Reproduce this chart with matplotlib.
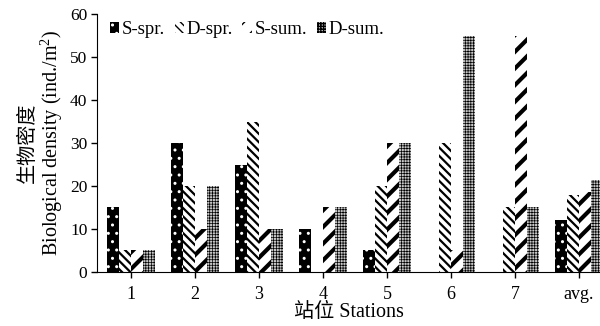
import numpy as np
import matplotlib
matplotlib.use("Agg")
import matplotlib.pyplot as plt
from matplotlib.patches import Patch

plt.rcParams['font.family'] = ['Liberation Serif', 'Noto Sans CJK SC']
plt.rcParams['mathtext.fontset'] = 'custom'
plt.rcParams['mathtext.rm'] = 'Liberation Serif'

# datos
stations = ['1', '2', '3', '4', '5', '6', '7', 'avg.']
s_spr = [15, 30, 25, 10, 5, 0, 0, 12.1]
d_spr = [5, 20, 35, 0, 20, 30, 15, 17.9]
s_sum = [5, 10, 10, 15, 30, 5, 55, 18.6]
d_sum = [5, 20, 10, 15, 30, 55, 15, 21.4]
labels = ['S-spr.', 'D-spr.', 'S-sum.', 'D-sum.']

# estilos (facecolor, hatch color, hatch, hatch lw)
styles = [
    ('black', 'white', '..', 1.0),
    ('white', 'black', '\\\\\\\\', 1.6),
    ('white', 'black', '//', 3.0),
    ('#c8c8c8', 'black', '++++++', 0.5),
]

fig = plt.figure(figsize=(6, 3.26), dpi=100)
ax = fig.add_axes([0.162, 0.166, 0.838, 0.79])

x = np.arange(len(stations))
w = 0.1875
series = [s_spr, d_spr, s_sum, d_sum]
handles = []
for i, (vals, (fc, hc, hatch, hlw)) in enumerate(zip(series, styles)):
    bars = ax.bar(x + (i - 1.5) * w, vals, width=w, facecolor=fc,
                  edgecolor=hc, hatch=hatch, linewidth=0)
    for b in bars:
        b.set_hatch_linewidth(hlw)
    h = Patch(facecolor=fc, edgecolor=hc, hatch=hatch, linewidth=0)
    h.set_hatch_linewidth(hlw)
    handles.append(h)

ax.set_xlim(-0.53, 7.33)
ax.set_ylim(0, 60)
ax.set_yticks(range(0, 61, 10))
ax.set_xticks(x)
ax.set_xticklabels(stations)
ax.spines['top'].set_visible(False)
ax.spines['right'].set_visible(False)
ax.tick_params(axis='both', direction='out', length=4, width=1)
ax.tick_params(axis='y', labelsize=12.5, pad=3)
ax.tick_params(axis='x', labelsize=13, pad=6)

ax.set_ylabel('生物密度\nBiological density (ind./m$^2$)', fontsize=14.5,
              linespacing=1.0, labelpad=4)
ax.set_xlabel('站位 Stations', fontsize=14.5, labelpad=0)

ax.legend(handles, labels, ncol=4, frameon=False, fontsize=13.5,
          loc='center left', bbox_to_anchor=(0.01, 0.94),
          handlelength=0.5, handleheight=0.5, handletextpad=0.15,
          columnspacing=0.5, borderaxespad=0)

fig.savefig('out.png', dpi=100)
